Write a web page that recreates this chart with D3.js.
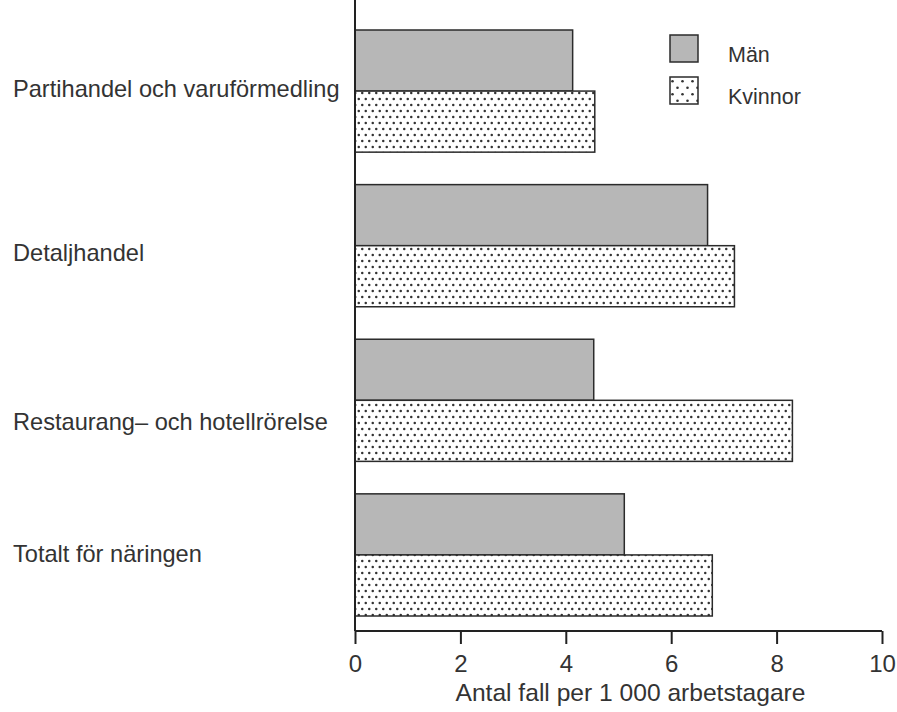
<!DOCTYPE html>
<html>
<head>
<meta charset="utf-8">
<script src="https://cdn.jsdelivr.net/npm/d3@7/dist/d3.min.js"></script>
<style>
  html, body { margin: 0; padding: 0; background: #ffffff; }
  svg { display: block; }
  text { font-family: "Liberation Sans", Arial, Helvetica, sans-serif; fill: #333; }
</style>
</head>
<body>
<script>
// ---- data ----
const categories = ["Partihandel och varuförmedling", "Detaljhandel", "Restaurang\u2013 och hotellrörelse", "Totalt för näringen"];
const seriesNames = ["Män", "Kvinnor"];
const manValues = [4.13, 6.69, 4.53, 5.11];
const kvinnorValues = [4.55, 7.20, 8.30, 6.78];
const xTicks = [0, 2, 4, 6, 8, 10];
const xTitle = "Antal fall per 1 000 arbetstagare";

// ---- layout (not data) ----
const W = 897, H = 712;
const labelDy = [6, 15, 30, 7];

const svg = d3.select("body").append("svg").attr("width", W).attr("height", H);
const defs = svg.append("defs");

function dotPattern(id, w, h, r) {
  const p = defs.append("pattern").attr("id", id).attr("width", w).attr("height", h)
    .attr("patternUnits", "userSpaceOnUse");
  p.append("rect").attr("width", w).attr("height", h).attr("fill", "#ffffff");
  p.append("circle").attr("cx", w * 0.25).attr("cy", h * 0.25).attr("r", r).attr("fill", "#333");
  p.append("circle").attr("cx", w * 0.75).attr("cy", h * 0.75).attr("r", r).attr("fill", "#333");
}
dotPattern("dots", 7, 12, 1.25);
dotPattern("dotsLegend", 10, 13, 1.3);

const fills = { "Män": "#b7b7b7", "Kvinnor": "url(#dots)" };
const legendFills = { "Män": "#b7b7b7", "Kvinnor": "url(#dotsLegend)" };

const x = d3.scaleLinear().domain([0, 10]).range([355, 882]);
const y = d3.scaleBand().domain(categories).range([30, 616]).paddingInner(0.21).paddingOuter(0);
const ySub = d3.scaleBand().domain(seriesNames).range([0, y.bandwidth()]);

const rows = categories.map((c, i) => ({ cat: c, i, values: [manValues[i], kvinnorValues[i]] }));

// bars
const g = svg.append("g");
rows.forEach(row => {
  seriesNames.forEach((s, j) => {
    g.append("rect")
      .attr("x", x(0))
      .attr("y", y(row.cat) + ySub(s))
      .attr("width", x(row.values[j]) - x(0))
      .attr("height", ySub.bandwidth())
      .attr("fill", fills[s])
      .attr("stroke", "#2b2b2b")
      .attr("stroke-width", 1.5);
  });
});

// category labels
svg.append("g").selectAll("text").data(rows).join("text")
  .attr("x", 13)
  .attr("y", d => y(d.cat) + y.bandwidth() / 2 + labelDy[d.i])
  .attr("font-size", 23.6)
  .text(d => d.cat);

// vertical axis line
const axisY = 631;
svg.append("line")
  .attr("x1", x(0)).attr("x2", x(0))
  .attr("y1", 0).attr("y2", axisY)
  .attr("stroke", "#222").attr("stroke-width", 2);

// x axis
const xAxis = d3.axisBottom(x).tickValues(xTicks).tickSize(13).tickPadding(11).tickFormat(d3.format("d"));
const ax = svg.append("g").attr("transform", `translate(0,${axisY})`).call(xAxis);
ax.select(".domain").attr("stroke", "#222").attr("stroke-width", 2).attr("d", `M${x(0)},0H${x(10)}`);
ax.selectAll(".tick line").attr("stroke", "#222").attr("stroke-width", 2);
ax.selectAll(".tick text").attr("font-size", 24).attr("fill", "#333")
  .attr("font-family", "Liberation Sans, Arial, sans-serif");

// axis title
svg.append("text")
  .attr("x", (x(0) + x(10)) / 2 + 12)
  .attr("y", 701)
  .attr("text-anchor", "middle")
  .attr("font-size", 24.6)
  .text(xTitle);

// legend
const lg = svg.append("g");
seriesNames.forEach((s, j) => {
  const top = 35 + j * 42;
  lg.append("rect").attr("x", 670).attr("y", top).attr("width", 28).attr("height", 27)
    .attr("fill", legendFills[s]).attr("stroke", "#2b2b2b").attr("stroke-width", 1.5);
  lg.append("text").attr("x", 728).attr("y", top + 27).attr("font-size", 21.5).text(s);
});
</script>
</body>
</html>
